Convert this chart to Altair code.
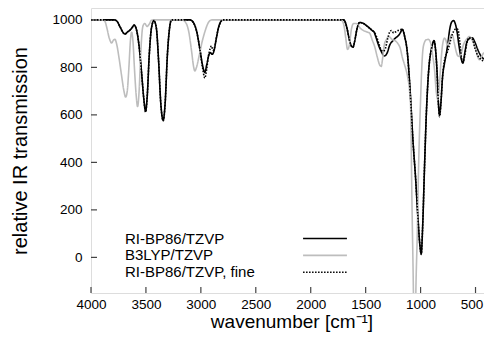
import altair as alt
import pandas as pd

# ---- data ----
series_names = ["RI-BP86/TZVP", "B3LYP/TZVP", "RI-BP86/TZVP, fine"]

wn_bp86 = [4000, 3790, 3765, 3735, 3705, 3690, 3670, 3645, 3625, 3608, 3590, 3565, 3540, 3520, 3503, 3488,
           3470, 3450, 3427, 3405, 3385, 3365, 3343, 3325, 3305, 3285, 3267, 3100, 3070, 3040, 3010, 2985,
           2964, 2945, 2925, 2912, 2898, 2880, 2860, 2835, 2800, 1700, 1690, 1670, 1650, 1630, 1615, 1600,
           1580, 1555, 1520, 1490, 1464, 1440, 1425, 1405, 1380, 1358, 1330, 1305, 1280, 1252, 1225, 1206,
           1185, 1167, 1145, 1120, 1095, 1070, 1045, 1025, 1008, 994, 982, 964, 948, 934, 918, 903, 890,
           879, 865, 850, 838, 827, 815, 800, 782, 765, 752, 735, 718, 700, 685, 668, 650, 632, 615, 598,
           580, 560, 530, 505, 480, 448, 420, 400, 380, 350]
t_bp86 = [1000, 1000, 995, 970, 945, 940, 948, 957, 968, 978, 965, 900, 780, 670, 615, 680,
          850, 965, 997, 965, 830, 650, 577, 650, 850, 965, 1000, 1000, 990, 955, 880, 810,
          779, 815, 855, 862, 855, 870, 920, 975, 1000, 1000, 995, 965, 920, 890, 885, 910,
          960, 989, 985, 975, 965, 955, 950, 925, 890, 867, 848, 860, 895, 912, 925, 932,
          945, 960, 930, 860, 700, 496, 330, 174, 60, 15, 120, 384, 600, 734, 830, 874, 900,
          913, 880, 780, 650, 600, 650, 760, 818, 860, 900, 960, 990, 997, 985, 950, 890, 840, 818, 860,
          905, 920, 925, 905, 875, 846, 835, 830, 825, 815]

wn_b3lyp = [4000, 3900, 3875, 3855, 3835, 3812, 3795, 3782, 3765, 3745, 3720, 3700, 3685, 3670, 3655, 3640,
            3630, 3618, 3605, 3590, 3576, 3562, 3548, 3535, 3524, 3510, 3490, 3470, 3450, 3430, 3170, 3140,
            3110, 3085, 3065, 3055, 3040, 3015, 2990, 2960, 2930, 2900, 1730, 1712, 1695, 1680, 1665, 1650,
            1630, 1610, 1585, 1550, 1520, 1494, 1464, 1440, 1418, 1395, 1373, 1358, 1345, 1328, 1312, 1290,
            1260, 1230, 1206, 1185, 1165, 1146, 1120, 1100, 1091, 1079, 1064, 1055, 1045, 1030, 1018, 1000,
            990, 979, 965, 949, 930, 910, 890, 873, 858, 843, 830, 815, 800, 782, 770, 758, 745, 725, 710,
            692, 675, 660, 645, 630, 610, 585, 555, 530, 500, 480, 464, 445, 425, 400, 380, 350]
t_b3lyp = [1000, 1000, 995, 965, 925, 903, 915, 918, 895, 840, 760, 700, 675, 700, 800, 920,
           948, 910, 800, 690, 635, 700, 850, 950, 978, 985, 972, 982, 998, 1000, 1000, 990,
           950, 870, 800, 785, 800, 850, 905, 955, 990, 1000, 1000, 995, 970, 920, 876, 890,
           960, 985, 985, 965, 955, 950, 944, 915, 888, 845, 811, 804, 840, 900, 916, 930,
           918, 912, 900, 880, 840, 811, 765, 700, 640, 244, -200, -600, -200, 103, 384, 664,
           790, 874, 905, 916, 918, 905, 850, 790, 700, 664, 720, 820, 895, 923, 915, 895, 900, 935, 935,
           900, 865, 848, 846, 860, 895, 916, 930, 915, 880, 845, 832, 845, 860, 845, 820, 810]

wn_fine = [4000, 3790, 3765, 3735, 3705, 3690, 3670, 3645, 3625, 3608, 3590, 3565, 3540, 3520, 3503, 3488,
           3470, 3450, 3427, 3405, 3385, 3365, 3343, 3325, 3305, 3285, 3267, 3100, 3070, 3040, 3010, 2985,
           2964, 2948, 2930, 2915, 2903, 2890, 2875, 2855, 2830, 2800, 1700, 1690, 1670, 1650, 1630, 1615,
           1600, 1580, 1555, 1520, 1490, 1464, 1440, 1425, 1405, 1380, 1358, 1340, 1320, 1300, 1280, 1265,
           1245, 1225, 1206, 1185, 1167, 1145, 1120, 1095, 1070, 1045, 1025, 1008, 994, 982, 964, 948, 934,
           918, 903, 890, 879, 865, 850, 838, 827, 815, 800, 782, 765, 752, 735, 715, 695, 676, 661, 645,
           628, 615, 598, 580, 560, 530, 505, 480, 460, 440, 420, 400, 380, 365, 350]
t_fine = [1000, 1000, 995, 970, 945, 940, 948, 957, 968, 978, 965, 900, 780, 670, 612, 680,
          850, 965, 997, 965, 830, 650, 575, 650, 850, 965, 1000, 1000, 990, 955, 880, 800,
          755, 790, 850, 880, 890, 872, 885, 935, 980, 1000, 1000, 995, 965, 920, 890, 885,
          910, 960, 989, 985, 975, 965, 955, 950, 935, 900, 873, 868, 880, 920, 950, 955,
          945, 950, 955, 958, 962, 930, 860, 700, 496, 330, 174, 60, 12, 120, 384, 600, 734,
          830, 874, 900, 913, 880, 780, 650, 592, 650, 760, 830, 855, 870, 900, 935, 955, 962, 960, 915,
          840, 822, 850, 900, 925, 920, 880, 850, 838, 830, 825, 805, 770, 745, 730]

y_tick_values = [0, 200, 400, 600, 800, 1000]
x_tick_values = [4000, 3500, 3000, 2500, 2000, 1500, 1000, 500]

rows = []
for name, wns, ts in [(series_names[0], wn_bp86, t_bp86),
                      (series_names[1], wn_b3lyp, t_b3lyp),
                      (series_names[2], wn_fine, t_fine)]:
    for i, (w, t) in enumerate(zip(wns, ts)):
        rows.append({"series": name, "wn": w, "T": t, "order": i})
df = pd.DataFrame(rows)

W, H = 401, 285
xscale = alt.Scale(domain=[4000, 350], nice=False, zero=False)
yscale = alt.Scale(domain=[-150, 1050], nice=False, zero=False)

FONT = "Liberation Sans"


def make_legend():
    return alt.Legend(title=None, orient="none", legendX=226.5, legendY=223,
                      symbolType="M-5,0H5", symbolSize=77, labelOffset={"expr": "-207.5"},
                      labelFontSize=15, labelFont=FONT, labelColor="#000",
                      padding=0, rowPadding=0.9, labelLimit=300)


lines = alt.Chart(df).mark_line(clip=True, interpolate="monotone").encode(
    x=alt.X("wn:Q", scale=xscale,
            axis=alt.Axis(values=x_tick_values, format="d", title="wavenumber [cm⁻¹]", grid=False,
                          ticks=False, tickSize=0, domain=False, labelPadding=4, titlePadding=2,
                          labelOffset={"expr": "datum.value == 500 ? -4 : 0"},
                          labelFlush=False, labelFontSize=13.5, titleFontSize=19, labelFont=FONT,
                          titleFont=FONT, titleFontWeight="normal", labelColor="#000", titleColor="#000")),
    y=alt.Y("T:Q", scale=yscale,
            axis=alt.Axis(values=y_tick_values, format="d", title="relative IR transmission", grid=False,
                          ticks=False, tickSize=0, domain=False, labelPadding=9, titlePadding=21,
                          labelFlush=False, labelFontSize=13.5, titleFontSize=20, labelFont=FONT,
                          titleFont=FONT, titleFontWeight="normal", labelColor="#000", titleColor="#000")),
    order="order:Q",
    color=alt.Color("series:N", sort=series_names,
                    scale=alt.Scale(domain=series_names, range=["#000000", "#bdbdbd", "#000000"]),
                    legend=make_legend()),
    strokeDash=alt.StrokeDash("series:N", sort=series_names,
                              scale=alt.Scale(domain=series_names, range=[[1, 0], [1, 0], [1.5, 1.5]]),
                              legend=make_legend()),
    strokeWidth=alt.StrokeWidth("series:N", sort=series_names,
                                scale=alt.Scale(domain=series_names, range=[1.6, 1.6, 1.2]),
                                legend=make_legend()),
)

ytick_df = pd.DataFrame({"v": y_tick_values})
xtick_df = pd.DataFrame({"v": x_tick_values})

yticks = alt.Chart(ytick_df).mark_rule(color="#444", strokeWidth=1.2).encode(
    y=alt.Y("v:Q", scale=yscale), x=alt.value(0), x2=alt.value(6))
xticks = alt.Chart(xtick_df).mark_rule(color="#444", strokeWidth=1.2).encode(
    x=alt.X("v:Q", scale=xscale), y=alt.value(H), y2=alt.value(H - 6))

chart = alt.layer(lines, yticks, xticks).properties(
    width=W, height=H,
    autosize=alt.AutoSizeParams(type="none"),
    padding={"left": 83, "top": 0, "right": -8, "bottom": 39},
).configure_view(stroke="#3c3c3c", strokeWidth=1.3).configure(background="white")

chart.save("out.html", embed_options={"renderer": "svg", "actions": False})
